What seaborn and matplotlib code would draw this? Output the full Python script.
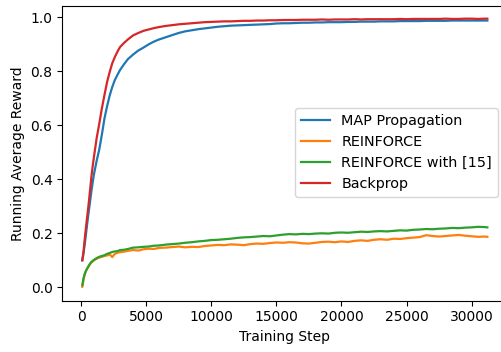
import numpy as np
import pandas as pd
import matplotlib
matplotlib.use("Agg")
import matplotlib.pyplot as plt
import seaborn as sns

steps = [100, 200, 300, 400, 500, 600, 700, 800, 900, 1000,
         1200, 1400, 1600, 1800, 2000, 2200, 2400, 2600, 2800, 3000,
         3300, 3600, 4000, 4400, 4800, 5200, 5600, 6000,
         6500, 7000, 7500, 8000, 8500, 9000, 9500, 10000, 10500, 11000,
         11500, 12000, 12500, 13000, 13500, 14000, 14500, 15000, 15500, 16000,
         16500, 17000, 17500, 18000, 18500, 19000, 19500, 20000, 20500, 21000,
         21500, 22000, 22500, 23000, 23500, 24000, 24500, 25000, 25500, 26000,
         26500, 27000, 27500, 28000, 28500, 29000, 29500, 30000, 30500, 31000,
         31200]

map_prop = [0.100, 0.128, 0.165, 0.205, 0.245, 0.283, 0.320, 0.357, 0.390, 0.420,
            0.468, 0.510, 0.565, 0.625, 0.670, 0.710, 0.742, 0.768, 0.787, 0.805,
            0.826, 0.845, 0.862, 0.877, 0.888, 0.900, 0.910, 0.918,
            0.926, 0.934, 0.942, 0.948, 0.952, 0.956, 0.959, 0.962, 0.965, 0.967,
            0.969, 0.970, 0.971, 0.972, 0.973, 0.974, 0.975, 0.977, 0.978, 0.978,
            0.979, 0.980, 0.980, 0.981, 0.981, 0.982, 0.982, 0.982, 0.983, 0.983,
            0.984, 0.984, 0.984, 0.985, 0.985, 0.985, 0.986, 0.986, 0.986, 0.986,
            0.987, 0.987, 0.987, 0.987, 0.988, 0.988, 0.988, 0.988, 0.988, 0.988,
            0.988]

reinforce = [0.002, 0.030, 0.050, 0.062, 0.071, 0.079, 0.086, 0.092, 0.096, 0.100,
             0.106, 0.110, 0.113, 0.116, 0.118, 0.122, 0.112, 0.124, 0.128, 0.130,
             0.132, 0.135, 0.138, 0.136, 0.141, 0.143, 0.142, 0.146,
             0.147, 0.149, 0.151, 0.148, 0.150, 0.149, 0.153, 0.155, 0.157, 0.156,
             0.159, 0.158, 0.156, 0.160, 0.162, 0.161, 0.164, 0.166, 0.165, 0.167,
             0.166, 0.163, 0.162, 0.165, 0.168, 0.169, 0.167, 0.170, 0.168, 0.172,
             0.174, 0.172, 0.176, 0.178, 0.176, 0.180, 0.179, 0.182, 0.184, 0.186,
             0.193, 0.190, 0.188, 0.190, 0.192, 0.194, 0.191, 0.189, 0.187, 0.188,
             0.187]

reinforce_15 = [0.008, 0.035, 0.052, 0.063, 0.072, 0.080, 0.088, 0.094, 0.098, 0.102,
                0.108, 0.113, 0.116, 0.119, 0.124, 0.127, 0.131, 0.133, 0.134, 0.138,
                0.139, 0.142, 0.147, 0.148, 0.150, 0.151, 0.154, 0.155,
                0.158, 0.160, 0.162, 0.165, 0.167, 0.170, 0.172, 0.175, 0.176, 0.178,
                0.180, 0.183, 0.185, 0.186, 0.188, 0.190, 0.189, 0.192, 0.195, 0.197,
                0.196, 0.198, 0.197, 0.199, 0.200, 0.199, 0.202, 0.203, 0.202, 0.204,
                0.206, 0.205, 0.207, 0.208, 0.207, 0.209, 0.211, 0.210, 0.213, 0.214,
                0.216, 0.215, 0.217, 0.218, 0.220, 0.219, 0.221, 0.222, 0.224, 0.223,
                0.222]

backprop = [0.100, 0.135, 0.185, 0.230, 0.272, 0.315, 0.362, 0.410, 0.450, 0.485,
            0.552, 0.605, 0.662, 0.712, 0.760, 0.797, 0.830, 0.853, 0.873, 0.890,
            0.905, 0.918, 0.933, 0.942, 0.950, 0.955, 0.960, 0.964,
            0.968, 0.971, 0.974, 0.976, 0.978, 0.980, 0.982, 0.983, 0.984, 0.985,
            0.985, 0.986, 0.987, 0.987, 0.988, 0.988, 0.989, 0.989, 0.990, 0.990,
            0.990, 0.991, 0.991, 0.991, 0.992, 0.991, 0.992, 0.992, 0.992, 0.993,
            0.992, 0.993, 0.993, 0.993, 0.993, 0.993, 0.994, 0.993, 0.994, 0.994,
            0.994, 0.994, 0.994, 0.995, 0.994, 0.994, 0.995, 0.995, 0.994, 0.995,
            0.995]

series_names = ["MAP Propagation", "REINFORCE", "REINFORCE with [15]", "Backprop"]
series_values = [map_prop, reinforce, reinforce_15, backprop]
colors = ["#1f77b4", "#ff7f0e", "#2ca02c", "#d62728"]

df = pd.concat([pd.DataFrame({"step": steps, "reward": v, "method": n})
                for n, v in zip(series_names, series_values)], ignore_index=True)

plt.rcParams["font.family"] = ["DejaVu Sans"]
plt.rcParams["font.size"] = 10

fig = plt.figure(figsize=(5.02, 3.52), dpi=100)
ax = fig.add_axes([62.3 / 502, (352 - 300.7) / 352, 445.3 / 502, 295.0 / 352])

sns.lineplot(data=df, x="step", y="reward", hue="method", hue_order=series_names,
             palette=colors, linewidth=1.6, ax=ax)

ax.set_xlim(-1436, 32755)
ax.set_ylim(-0.0496, 1.043)
ax.set_xticks([0, 5000, 10000, 15000, 20000, 25000, 30000])
ax.set_yticks([0.0, 0.2, 0.4, 0.6, 0.8, 1.0])
ax.set_xlabel("Training Step")
ax.set_ylabel("Running Average Reward")
ax.spines["right"].set_visible(False)
ax.legend(loc="center right", fontsize=10.4,
          bbox_to_anchor=(498 / 502, 1 - 152.5 / 352),
          bbox_transform=fig.transFigure, borderaxespad=0)

fig.savefig("out.png", dpi=100)
